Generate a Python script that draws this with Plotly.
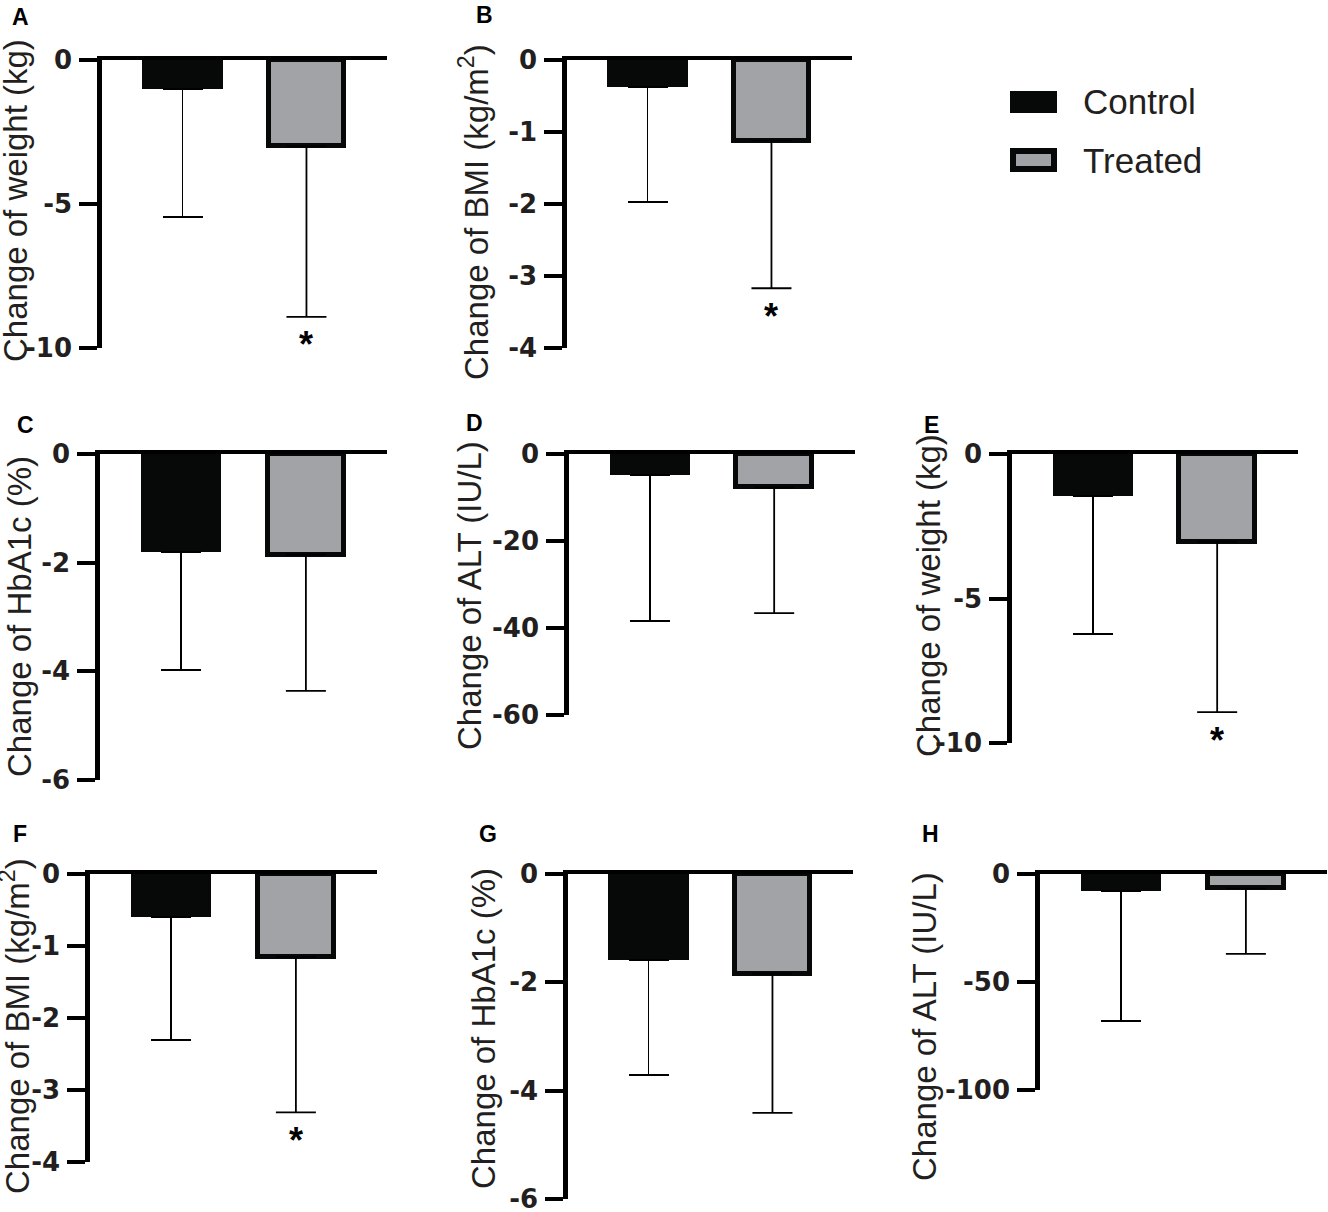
import plotly.graph_objects as go

# ---------------- data ----------------
groups = ["Control", "Treated"]
panel_letters = ["A", "B", "C", "D", "E", "F", "G", "H"]
y_titles = [
    "Change of weight (kg)",
    "Change of BMI (kg/m<sup>2</sup>)",
    "Change of HbA1c (%)",
    "Change of ALT (IU/L)",
    "Change of weight (kg)",
    "Change of BMI (kg/m<sup>2</sup>)",
    "Change of HbA1c (%)",
    "Change of ALT (IU/L)",
]
control_mean = [-1.0, -0.38, -1.80, -4.8, -1.45, -0.60, -1.59, -7.9]
control_sd = [4.45, 1.59, 2.18, 33.6, 4.78, 1.71, 2.12, 60.0]
treated_mean = [-3.0, -1.12, -1.85, -7.7, -3.03, -1.15, -1.84, -6.7]
treated_sd = [5.92, 2.05, 2.51, 28.9, 5.90, 2.16, 2.57, 30.3]
significant = [True, True, False, False, True, True, False, False]
y_min = [-10, -4, -6, -60, -10, -4, -6, -100]
y_tickvals = [
    [0, -5, -10],
    [0, -1, -2, -3, -4],
    [0, -2, -4, -6],
    [0, -20, -40, -60],
    [0, -5, -10],
    [0, -1, -2, -3, -4],
    [0, -2, -4, -6],
    [0, -50, -100],
]

# ---------------- layout (pixels) ----------------
W, H = 1328, 1212
# x_left, x_right, y_top(zero), y_bottom(min)
panel_px = [
    (102, 387, 60, 348),
    (567, 852, 60, 348),
    (100, 387, 454, 780),
    (569, 855, 454, 715),
    (1012, 1298, 454, 743),
    (90, 377, 874, 1162),
    (568, 853, 874, 1199),
    (1040, 1327, 874, 1090),
]
letter_px = [(20, 17), (484, 15), (25, 425), (474, 423), (932, 425), (20, 834), (488, 834), (930, 834)]
title_px = [(15, 201), (474, 212), (19, 617), (469, 596), (928, 596), (15, 1026), (483, 1029), (924, 1027)]

BLACK = "#070808"
GRAY = "#a2a3a7"
TXT = "#231f20"
FONT = "Liberation Sans, Arial, sans-serif"
TICKFONT = "DejaVu Sans, Liberation Sans, sans-serif"

fig = go.Figure()

def px2x(p):
    return p / W

def px2y(p):
    return 1 - p / H

annotations = []
shapes = []
for i in range(8):
    n = "" if i == 0 else str(i + 1)
    xl, xr, yt, yb = panel_px[i]
    xa = "x" + n
    ya = "y" + n
    fig.add_trace(go.Bar(
        x=[groups[0]], y=[control_mean[i]], width=0.647,
        marker=dict(color=BLACK, line=dict(width=0)),
        error_y=dict(type="data", symmetric=False, array=[0], arrayminus=[control_sd[i]],
                     color="black", thickness=1.8, width=20),
        xaxis=xa, yaxis=ya, showlegend=False, name=groups[0]))
    fig.add_trace(go.Bar(
        x=[groups[1]], y=[treated_mean[i]], width=0.607,
        marker=dict(color=GRAY, line=dict(width=5, color=BLACK)),
        error_y=dict(type="data", symmetric=False, array=[0], arrayminus=[treated_sd[i]],
                     color="black", thickness=1.8, width=20),
        xaxis=xa, yaxis=ya, showlegend=False, name=groups[1]))
    xkey = "xaxis" + n
    ykey = "yaxis" + n
    fig.update_layout(**{
        xkey: dict(domain=[px2x(xl), px2x(xr)], anchor=ya, type="category",
                   categoryorder="array", categoryarray=groups,
                   range=[-0.65, 1.65], side="top", showline=True, linewidth=4,
                   linecolor="black", ticks="", showticklabels=False, automargin=False,
                   showgrid=False, zeroline=False, fixedrange=True),
        ykey: dict(domain=[px2y(yb), px2y(yt)], anchor=xa, range=[y_min[i], 0],
                   tickmode="array", tickvals=y_tickvals[i],
                   ticktext=[str(v) for v in y_tickvals[i]],
                   showline=True, linewidth=4.5, linecolor="black",
                   ticks="outside", ticklen=18, tickwidth=4, tickcolor="black",
                   tickfont=dict(family=TICKFONT, size=26, color=TXT, weight="bold"),
                   ticklabelstandoff=2, ticklabeloverflow="allow", automargin=False,
                   showgrid=False, zeroline=False, fixedrange=True),
    })
    # panel letter
    annotations.append(dict(xref="paper", yref="paper", x=px2x(letter_px[i][0]), y=px2y(letter_px[i][1]),
                            text="<b>%s</b>" % panel_letters[i], showarrow=False,
                            xanchor="center", yanchor="middle",
                            font=dict(family=FONT, size=23, color="black")))
    # y title
    annotations.append(dict(xref="paper", yref="paper", x=px2x(title_px[i][0]), y=px2y(title_px[i][1]),
                            text=y_titles[i], showarrow=False, textangle=-90,
                            xanchor="center", yanchor="middle",
                            font=dict(family=FONT, size=33, color=TXT)))
    if significant[i]:
        annotations.append(dict(xref=xa, yref=ya, x=groups[1], y=treated_mean[i] - treated_sd[i],
                                text="<b>*</b>", showarrow=False, yshift=-28,
                                xanchor="center", yanchor="middle",
                                font=dict(family=FONT, size=36, color="black")))

# legend drawn as swatches + text
shapes.append(dict(type="rect", xref="paper", yref="paper",
                   x0=px2x(1010), x1=px2x(1057), y0=px2y(113), y1=px2y(91),
                   fillcolor=BLACK, line=dict(width=0)))
shapes.append(dict(type="rect", xref="paper", yref="paper",
                   x0=px2x(1013), x1=px2x(1054), y0=px2y(169), y1=px2y(151),
                   fillcolor=GRAY, line=dict(width=6, color=BLACK)))
annotations.append(dict(xref="paper", yref="paper", x=px2x(1081), y=px2y(102), text=groups[0],
                        showarrow=False, xanchor="left", yanchor="middle",
                        font=dict(family=FONT, size=35, color=TXT)))
annotations.append(dict(xref="paper", yref="paper", x=px2x(1081), y=px2y(160), text=groups[1],
                        showarrow=False, xanchor="left", yanchor="middle",
                        font=dict(family=FONT, size=35, color=TXT)))

fig.update_layout(
    width=W, height=H, margin=dict(l=0, r=0, t=0, b=0, autoexpand=False),
    paper_bgcolor="white", plot_bgcolor="white",
    annotations=annotations, shapes=shapes, showlegend=False,
    bargap=0, font=dict(family=FONT, color=TXT),
)
fig.write_html("out.html", config={"displayModeBar": False},
               post_script="document.body.style.margin='0px';document.body.style.overflow='hidden';")
